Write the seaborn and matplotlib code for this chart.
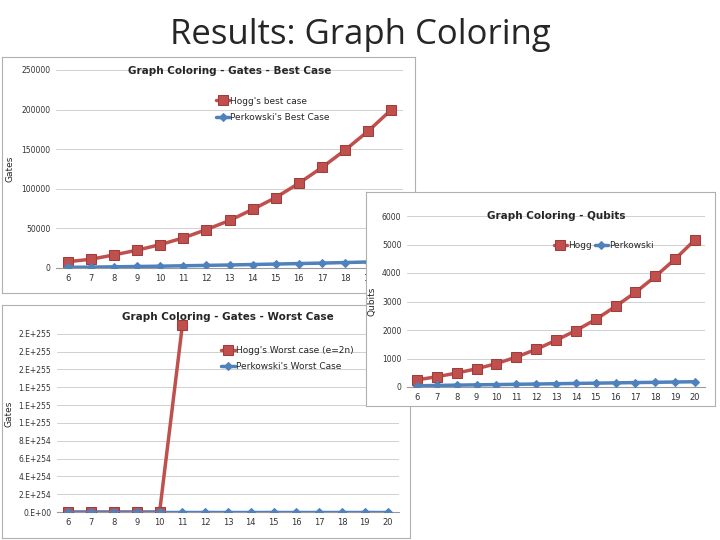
import matplotlib
matplotlib.use("Agg")
import matplotlib.pyplot as plt
import seaborn as sns
import pandas as pd

sns.set_style("white")
plt.rcParams['font.family'] = ['DejaVu Sans']

n = list(range(6, 21))
hogg_best = [8000, 11000, 16500, 22500, 29500, 38000, 48500, 60000, 74000, 89000, 107000, 127000, 149000, 173000, 200000]
perk_best = [800, 1100, 1500, 1900, 2300, 2800, 3300, 3800, 4400, 5000, 5600, 6200, 6900, 7600, 8300]
hogg_qubits = [250, 360, 490, 640, 820, 1050, 1320, 1640, 1980, 2370, 2830, 3320, 3880, 4490, 5170]
perk_qubits = [40, 55, 65, 75, 85, 95, 105, 115, 125, 135, 145, 155, 165, 175, 185]
n_worst_hogg = [6, 7, 8, 9, 10, 11]
hogg_worst = [0, 0, 0, 0, 0, 2.1e255]
perk_worst = [0] * 15
worst_ticklabels = ["0.E+00", "2.E+254", "4.E+254", "6.E+254", "8.E+254", "1.E+255",
                    "1.E+255", "1.E+255", "2.E+255", "2.E+255", "2.E+255"]

RED = "#c0504d"
BLUE = "#4f81bd"
W, H = 720, 540
fig = plt.figure(figsize=(7.2, 5.4), dpi=100)

def rect(x, y, w, h):
    return [x / W, 1 - (y + h) / H, w / W, h / H]

def panel(box, plot, title, ylabel, ylabel_x, xs1, y1, l1, xs2, y2, l2, yticks, yticklabels, ylim, legloc, legncol=1):
    bg = fig.add_axes(rect(*box))
    bg.set_xticks([]); bg.set_yticks([])
    bg.set_facecolor("white")
    for s in bg.spines.values():
        s.set_color("#b0b0b0"); s.set_linewidth(0.8)
    ax = fig.add_axes(rect(*plot))
    ax.set_facecolor("white")
    df1 = pd.DataFrame({"n": xs1, "v": y1})
    df2 = pd.DataFrame({"n": xs2, "v": y2})
    sns.lineplot(data=df1, x="n", y="v", ax=ax, color=RED, marker="s", markersize=7,
                 linewidth=2.5, markeredgecolor="#a03c39", label=l1, zorder=3)
    sns.lineplot(data=df2, x="n", y="v", ax=ax, color=BLUE, marker="D", markersize=4.5,
                 linewidth=2.5, markeredgecolor=BLUE, label=l2, zorder=3)
    ax.set_xlim(5.5, 20.5)
    ax.set_ylim(*ylim)
    ax.set_xticks(n)
    ax.set_xticklabels([str(i) for i in n], fontsize=6, color="#333333")
    ax.set_yticks(yticks)
    ax.set_yticklabels(yticklabels, fontsize=5.5, color="#333333")
    ax.yaxis.grid(True, color="#d0d0d0", linewidth=0.7)
    ax.set_axisbelow(True)
    for k in ["top", "right", "left"]:
        ax.spines[k].set_visible(False)
    ax.spines["bottom"].set_color("#999999")
    ax.tick_params(length=0, pad=4)
    ax.set_xlabel("")
    ax.set_ylabel("")
    yc = 1 - (plot[1] + plot[3] / 2) / H
    fig.text(ylabel_x / W, yc, ylabel, rotation=90, ha="center", va="center", fontsize=6.5)
    ax.set_title(title, fontsize=7.5, fontweight="bold", pad=3, y=0.96)
    ax.legend(loc=legloc, frameon=False, fontsize=6.5, ncol=legncol, handlelength=1.5,
              handletextpad=0.1, columnspacing=0.3, labelspacing=0.8)
    return ax

fig.text(0.5, 1 - 35 / H, "Results: Graph Coloring", ha="center", va="center", fontsize=25,
         family="Open Sans")

panel((2, 57, 413, 236), (56, 70, 347, 198), "Graph Coloring - Gates - Best Case", "Gates", 10,
      n, hogg_best, "Hogg's best case", n, perk_best, "Perkowski's Best Case",
      [0, 50000, 100000, 150000, 200000, 250000],
      ["0", "50000", "100000", "150000", "200000", "250000"], (0, 250000),
      (0.45, 0.72))

panel((2, 305, 408, 233), (57, 316, 342, 196), "Graph Coloring - Gates - Worst Case", "Gates", 9,
      n_worst_hogg, hogg_worst, "Hogg's Worst case (e=2n)", n, perk_worst, "Perkowski's Worst Case",
      [i * 2e254 for i in range(11)], worst_ticklabels, (0, 2.2e255),
      (0.47, 0.70))

panel((366, 192, 349, 214), (407, 216, 298, 171), "Graph Coloring - Qubits", "Qubits", 372,
      n, hogg_qubits, "Hogg", n, perk_qubits, "Perkowski",
      [0, 1000, 2000, 3000, 4000, 5000, 6000],
      ["0", "1000", "2000", "3000", "4000", "5000", "6000"], (0, 6000),
      (0.48, 0.78), legncol=2)

fig.savefig("out.png", dpi=100)
